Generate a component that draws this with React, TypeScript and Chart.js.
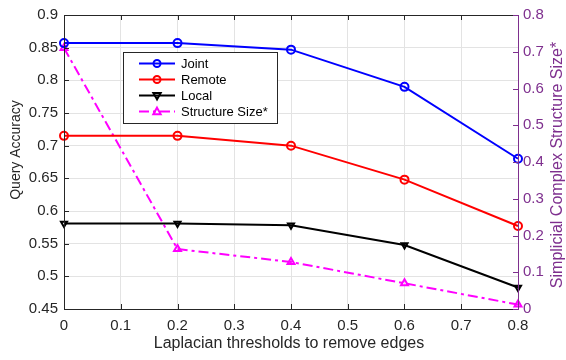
import React, { useEffect, useRef } from "react";
import { Chart, registerables } from "chart.js";
Chart.register(...registerables);

const thresholds = [0, 0.2, 0.4, 0.6, 0.8];
const jointAcc = [0.857, 0.857, 0.847, 0.79, 0.68];
const remoteAcc = [0.715, 0.715, 0.7, 0.648, 0.577];
const localAcc = [0.581, 0.581, 0.578, 0.548, 0.483];
const structureSize = [0.71, 0.163, 0.128, 0.07, 0.012];
const seriesLabels = ["Joint", "Remote", "Local", "Structure Size*"];
const xTitle = "Laplacian thresholds to remove edges";
const yTitle = "Query Accuracy";
const y1Title = "Simplicial Complex Structure Size*";

const FONT = "'Liberation Sans', Arial, Helvetica, sans-serif";
const PURPLE = "#7E2F8E";
const INK = "#262626";

function drawMarker(ctx: CanvasRenderingContext2D, style: string, rot: number, x: number, y: number, r: number, stroke: string, fill: string) {
  ctx.save();
  ctx.translate(x, y);
  ctx.rotate((rot * Math.PI) / 180);
  ctx.beginPath();
  if (style === "circle") {
    ctx.arc(0, 0, r, 0, Math.PI * 2);
  } else {
    ctx.moveTo(0, -r * 1.1);
    ctx.lineTo(r * 1.05, r * 0.75);
    ctx.lineTo(-r * 1.05, r * 0.75);
    ctx.closePath();
  }
  ctx.fillStyle = fill;
  ctx.fill();
  ctx.lineWidth = 2;
  ctx.strokeStyle = stroke;
  ctx.setLineDash([]);
  ctx.stroke();
  ctx.restore();
}

const decorPlugin = {
  id: "decor",
  afterDraw(chart: any) {
    const ctx: CanvasRenderingContext2D = chart.ctx;
    const ca = chart.chartArea;
    const xs = chart.scales.x;
    const ys = chart.scales.y;
    const y1 = chart.scales.y1;
    ctx.save();
    // borders
    ctx.lineWidth = 1;
    ctx.strokeStyle = INK;
    ctx.beginPath();
    ctx.moveTo(ca.right, ca.top + 0.5);
    ctx.lineTo(ca.left + 0.5, ca.top + 0.5);
    ctx.lineTo(ca.left + 0.5, ca.bottom + 0.5);
    ctx.lineTo(ca.right, ca.bottom + 0.5);
    ctx.stroke();
    // inward ticks
    ctx.beginPath();
    xs.ticks.forEach((t: any) => {
      const px = Math.round(xs.getPixelForValue(t.value)) + 0.5;
      ctx.moveTo(px, ca.bottom);
      ctx.lineTo(px, ca.bottom - 5);
      ctx.moveTo(px, ca.top);
      ctx.lineTo(px, ca.top + 5);
    });
    ys.ticks.forEach((t: any) => {
      const py = Math.round(ys.getPixelForValue(t.value)) + 0.5;
      ctx.moveTo(ca.left, py);
      ctx.lineTo(ca.left + 5, py);
    });
    ctx.stroke();
    // right axis
    ctx.strokeStyle = PURPLE;
    ctx.beginPath();
    ctx.moveTo(ca.right + 0.5, ca.top);
    ctx.lineTo(ca.right + 0.5, ca.bottom + 1);
    y1.ticks.forEach((t: any) => {
      const py = Math.round(y1.getPixelForValue(t.value)) + 0.5;
      ctx.moveTo(ca.right, py);
      ctx.lineTo(ca.right - 5, py);
    });
    ctx.stroke();

    // titles
    ctx.textAlign = "center";
    ctx.textBaseline = "middle";
    ctx.fillStyle = INK;
    ctx.font = `16px ${FONT}`;
    ctx.fillText(xTitle, (ca.left + ca.right) / 2 - 2, 344);

    ctx.save();
    ctx.font = `14px ${FONT}`;
    ctx.translate(16, 150);
    ctx.rotate(-Math.PI / 2);
    ctx.fillText(yTitle, 0, 0);
    ctx.restore();

    ctx.save();
    ctx.fillStyle = PURPLE;
    ctx.font = `16px ${FONT}`;
    ctx.translate(558, 165);
    ctx.rotate(-Math.PI / 2);
    ctx.fillText(y1Title, 0, 0);
    ctx.restore();
    ctx.restore();

    // legend
    ctx.save();
    const bx = 123.5, by = 52.5, bw = 154, bh = 71;
    ctx.fillStyle = "#ffffff";
    ctx.fillRect(bx, by, bw, bh);
    ctx.strokeStyle = INK;
    ctx.lineWidth = 1;
    ctx.strokeRect(bx, by, bw, bh);
    ctx.font = `13px ${FONT}`;
    ctx.textAlign = "left";
    ctx.textBaseline = "middle";
    chart.data.datasets.forEach((ds: any, i: number) => {
      const yy = 63.5 + i * 16;
      ctx.strokeStyle = ds.borderColor;
      ctx.lineWidth = 2;
      ctx.setLineDash(ds.borderDash || []);
      ctx.beginPath();
      ctx.moveTo(139, yy);
      ctx.lineTo(175, yy);
      ctx.stroke();
      ctx.setLineDash([]);
      drawMarker(ctx, ds.pointStyle, ds.pointRotation || 0, 157, yy, 3.5, ds.borderColor, ds.pointBackgroundColor);
      ctx.fillStyle = "#000000";
      ctx.fillText(ds.label, 181, yy + 0.5);
    });
    ctx.restore();
  },
};

export default function App() {
  const ref = useRef<HTMLCanvasElement>(null);
  useEffect(() => {
    if (!ref.current) return;
    const mk = (vals: number[]) => thresholds.map((x, i) => ({ x, y: vals[i] }));
    const base = { pointRadius: 4, pointBorderWidth: 2, pointBackgroundColor: "rgba(255,255,255,0)", borderWidth: 2, clip: false };
    const chart = new Chart(ref.current, {
      type: "line",
      data: {
        datasets: [
          { ...base, label: seriesLabels[0], data: mk(jointAcc), yAxisID: "y", borderColor: "#0000FF", backgroundColor: "#0000FF", pointStyle: "circle" } as any,
          { ...base, label: seriesLabels[1], data: mk(remoteAcc), yAxisID: "y", borderColor: "#FF0000", backgroundColor: "#FF0000", pointStyle: "circle" } as any,
          { ...base, label: seriesLabels[2], data: mk(localAcc), yAxisID: "y", borderColor: "#000000", backgroundColor: "#000000", pointStyle: "triangle", pointRotation: 180, pointRadius: 3.5 } as any,
          { ...base, label: seriesLabels[3], data: mk(structureSize), yAxisID: "y1", borderColor: "#FF00FF", backgroundColor: "#FF00FF", pointStyle: "triangle", borderDash: [10, 4, 3, 4] } as any,
        ],
      },
      options: {
        animation: false,
        responsive: false,
        maintainAspectRatio: false,
        layout: { padding: { top: 10, left: 0, right: 0, bottom: 0 } },
        plugins: { legend: { display: false }, tooltip: { enabled: false } },
        scales: {
          x: {
            type: "linear",
            min: 0,
            max: 0.8,
            border: { display: false },
            grid: { color: "#e3e3e3", lineWidth: 1, drawTicks: false },
            ticks: { stepSize: 0.1, padding: 8, color: INK, font: { family: FONT, size: 15 }, callback: (v: any) => String(Math.round(Number(v) * 10) / 10) },
            afterFit: (s: any) => { s.height = 51; },
          },
          y: {
            type: "linear",
            position: "left",
            min: 0.45,
            max: 0.9,
            border: { display: false },
            grid: { color: "#e3e3e3", lineWidth: 1, drawTicks: false },
            ticks: { stepSize: 0.05, padding: 6, color: INK, font: { family: FONT, size: 15 }, callback: (v: any) => String(Math.round(Number(v) * 100) / 100) },
            afterFit: (s: any) => { s.width = 64; },
          },
          y1: {
            type: "linear",
            position: "right",
            min: 0,
            max: 0.8,
            border: { display: false },
            grid: { display: false, drawTicks: false },
            ticks: { stepSize: 0.1, padding: 5, color: PURPLE, font: { family: FONT, size: 15 }, callback: (v: any) => String(Math.round(Number(v) * 10) / 10) },
            afterFit: (s: any) => { s.width = 48; },
          },
        },
      } as any,
      plugins: [decorPlugin],
    });
    return () => chart.destroy();
  }, []);
  return (
    <div style={{ position: "fixed", left: 0, top: 0, width: 566, height: 360, background: "#fff" }}>
      <canvas ref={ref} width={566} height={360} style={{ display: "block", width: 566, height: 360 }} />
    </div>
  );
}
